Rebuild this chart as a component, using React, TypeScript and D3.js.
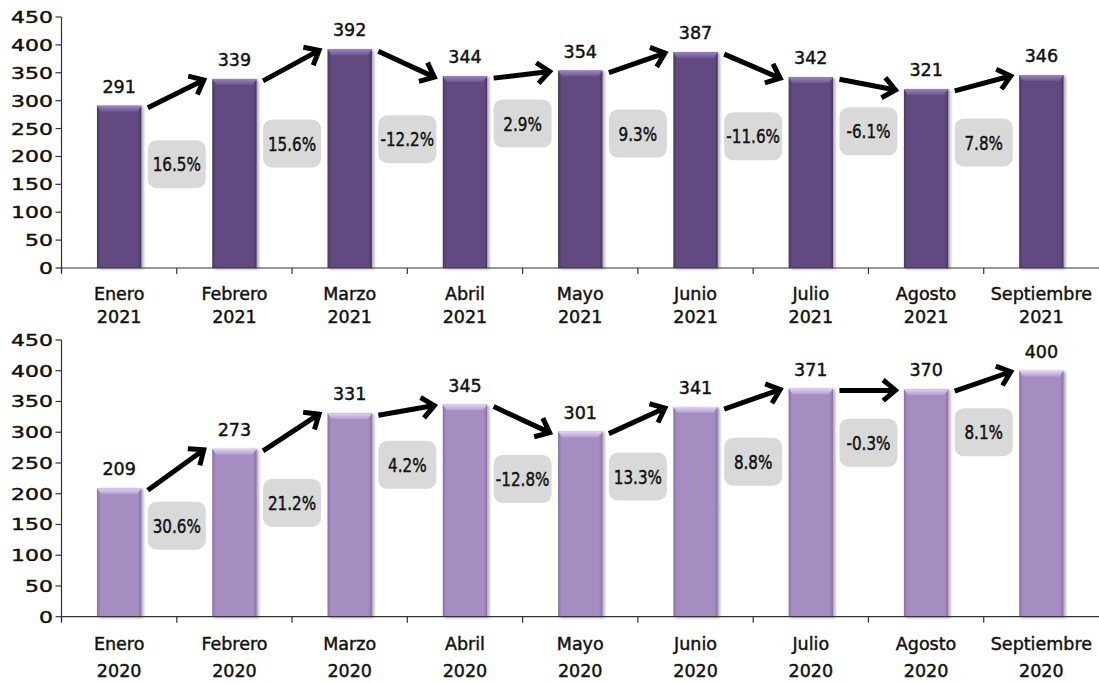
import React from 'react';
import * as d3 from 'd3';

const months = ['Enero', 'Febrero', 'Marzo', 'Abril', 'Mayo', 'Junio', 'Julio', 'Agosto', 'Septiembre'];
const values2021 = [291, 339, 392, 344, 354, 387, 342, 321, 346];
const values2020 = [209, 273, 331, 345, 301, 341, 371, 370, 400];
const changes2021 = ['16.5%', '15.6%', '-12.2%', '2.9%', '9.3%', '-11.6%', '-6.1%', '7.8%'];
const changes2020 = ['30.6%', '21.2%', '4.2%', '-12.8%', '13.3%', '8.8%', '-0.3%', '8.1%'];
// vertical level (in axis units) of the centre of each change badge
const badgeLevel2021 = [186, 223, 231, 259, 241, 236, 245, 225];
const badgeLevel2020 = [148, 185, 247, 224, 228, 252, 283, 300];
const yTicks = [0, 50, 100, 150, 200, 250, 300, 350, 400, 450];

const W = 1099;
const H = 683;
const FONT = "'DejaVu Sans', Verdana, sans-serif";
const TXT = '#111';
const TS = 0.45; // faux medium weight

const panels = [
  {
    id: 'p21', year: '2021', values: values2021, changes: changes2021, levels: badgeLevel2021,
    y0: 268, y1: 17, lab1: 300, lab2: 323,
    main: '#624a80', edge: '#4a3663', bevelTop: '#9c84bd', bevelBot: '#6e5590',
  },
  {
    id: 'p20', year: '2020', values: values2020, changes: changes2020, levels: badgeLevel2020,
    y0: 616.7, y1: 340, lab1: 650, lab2: 677,
    main: '#a58cc1', edge: '#8a72a6', bevelTop: '#e0d2f4', bevelBot: '#b39cd0',
  },
];

const x = d3.scaleBand<string>().domain(months).range([61.5, W]).paddingInner(0).paddingOuter(0);

function arrowPath(x1: number, y1: number, x2: number, y2: number) {
  const ang = Math.atan2(y2 - y1, x2 - x1);
  const L = 16;
  const phi = (40 * Math.PI) / 180;
  const ax = x2 - L * Math.cos(ang - phi);
  const ay = y2 - L * Math.sin(ang - phi);
  const bx = x2 - L * Math.cos(ang + phi);
  const by = y2 - L * Math.sin(ang + phi);
  return `M${x1},${y1}L${x2},${y2}M${ax},${ay}L${x2},${y2}L${bx},${by}`;
}

function Panel({ p }: { p: typeof panels[number] }) {
  const y = d3.scaleLinear().domain([0, 450]).range([p.y0, p.y1]);
  const bw = x.bandwidth() * 0.385;
  const axisX = x.range()[0];
  const boundaries = d3.range(months.length).map((i) => axisX + i * x.step());
  return (
    <g>
      <defs>
        <linearGradient id={`${p.id}-h`} x1="0" x2="1" y1="0" y2="0">
          <stop offset="0" stopColor={p.edge} />
          <stop offset="0.08" stopColor={p.main} />
          <stop offset="0.92" stopColor={p.main} />
          <stop offset="1" stopColor={p.edge} />
        </linearGradient>
        <linearGradient id={`${p.id}-v`} x1="0" x2="0" y1="0" y2="1">
          <stop offset="0" stopColor={p.bevelTop} />
          <stop offset="1" stopColor={p.bevelBot} />
        </linearGradient>
      </defs>
      {/* y axis */}
      <line x1={axisX} x2={axisX} y1={y(450)} y2={y(0) + 5} stroke="#333" strokeWidth={1.2} />
      {yTicks.map((t) => (
        <g key={t}>
          <line x1={axisX - 6} x2={axisX} y1={y(t)} y2={y(t)} stroke="#333" strokeWidth={1.2} />
          <text
            transform={`translate(53,${y(t) + 6}) scale(1.33,1)`}
            textAnchor="end"
            fontFamily={FONT}
            fontSize={16.5}
            fill={TXT}
            stroke={TXT}
            strokeWidth={TS}
          >
            {t}
          </text>
        </g>
      ))}
      {/* bars */}
      {p.values.map((v, i) => {
        const cx = (x(months[i]) as number) + x.bandwidth() / 2;
        const bx = cx - bw / 2;
        const by = y(v);
        const bh = y(0) - y(v);
        return (
          <g key={i} filter="url(#barShadow)">
            <rect x={bx} y={by} width={bw} height={bh} fill={`url(#${p.id}-h)`} />
            <polygon
              points={`${bx},${by} ${bx + bw},${by} ${bx + bw - 4},${by + 6} ${bx + 4},${by + 6}`}
              fill={`url(#${p.id}-v)`}
            />
          </g>
        );
      })}
      {/* x axis */}
      <line x1={axisX} x2={W} y1={y(0)} y2={y(0)} stroke="#333" strokeWidth={1.2} />
      {boundaries.map((b, i) => (
        <line key={i} x1={b} x2={b} y1={y(0)} y2={y(0) + 6} stroke="#333" strokeWidth={1.2} />
      ))}
      {months.map((m) => {
        const cx = (x(m) as number) + x.bandwidth() / 2;
        return (
          <g key={m} fontFamily={FONT} fontSize={17.5} fill={TXT} stroke={TXT} strokeWidth={TS} textAnchor="middle">
            <text x={cx} y={p.lab1}>{m}</text>
            <text x={cx} y={p.lab2}>{p.year}</text>
          </g>
        );
      })}
      {/* value labels */}
      {p.values.map((v, i) => {
        const cx = (x(months[i]) as number) + x.bandwidth() / 2;
        return (
          <text
            key={i}
            x={cx}
            y={y(v) - 13}
            textAnchor="middle"
            fontFamily={FONT}
            fontSize={17.5}
            fill={TXT}
            stroke={TXT}
            strokeWidth={TS}
          >
            {v}
          </text>
        );
      })}
      {/* arrows */}
      {p.changes.map((_, i) => {
        const b = boundaries[i + 1];
        const x1 = b - 29;
        const x2 = b + 27;
        const y1 = y(p.values[i]) + 2;
        const y2 = y(p.values[i + 1]) + 1;
        return (
          <path
            key={i}
            d={arrowPath(x1, y1, x2, y2)}
            fill="none"
            stroke="#000"
            strokeWidth={5}
            strokeLinecap="butt"
            strokeLinejoin="miter"
          />
        );
      })}
      {/* change badges */}
      {p.changes.map((c, i) => {
        const b = boundaries[i + 1];
        const cy = y(p.levels[i]);
        return (
          <g key={i}>
            <rect x={b - 29} y={cy - 24} width={58} height={48} rx={9} fill="#d9d9d9" />
            <text
              transform={`translate(${b},${cy + 7}) scale(0.8,1)`}
              textAnchor="middle"
              fontFamily={FONT}
              fontSize={19}
              fill={TXT}
              stroke={TXT}
              strokeWidth={TS}
            >
              {c}
            </text>
          </g>
        );
      })}
    </g>
  );
}

export default function App() {
  return (
    <svg
      width={W}
      height={H}
      viewBox={`0 0 ${W} ${H}`}
      style={{ position: 'absolute', left: 0, top: 0, background: '#fff' }}
    >
      <defs>
        <filter id="barShadow" x="-30%" y="-10%" width="160%" height="120%">
          <feDropShadow dx="2" dy="1" stdDeviation="1.5" floodColor="#000" floodOpacity="0.35" />
        </filter>
      </defs>
      <rect x={0} y={0} width={W} height={H} fill="#fff" />
      {panels.map((p) => (
        <Panel key={p.id} p={p} />
      ))}
    </svg>
  );
}
